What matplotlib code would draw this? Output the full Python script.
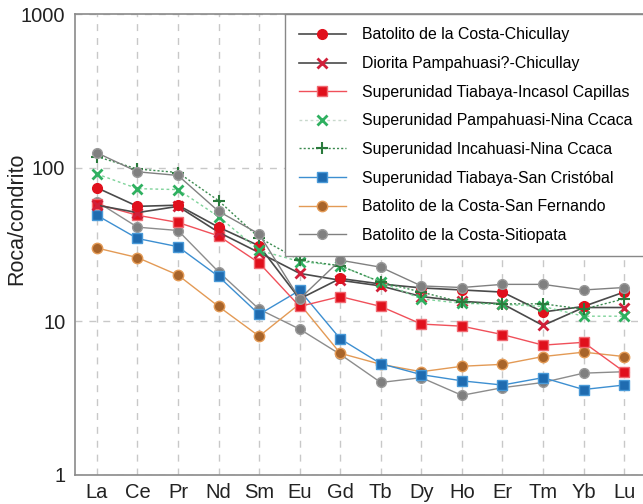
import matplotlib.pyplot as plt
import numpy as np

plt.rcParams['font.family'] = ['Liberation Sans', 'DejaVu Sans']

# Elementos de tierras raras (normalizados a condrito)
ree = ["La", "Ce", "Pr", "Nd", "Sm", "Eu", "Gd", "Tb", "Dy", "Ho", "Er", "Tm", "Yb", "Lu"]

chicullay = [74, 56, 57, 41, 31, 14, 19, 17.5, 16.5, 16, 15.5, 11.5, 12.5, 15.5]
diorita = [57, 51, 56, 38, 28, 20.5, 18.5, 17, 14.5, 13.5, 13, 9.4, 12.3, 12.3]
incasol = [58, 49, 44, 36, 24, 12.5, 14.5, 12.5, 9.6, 9.3, 8.2, 7.0, 7.3, 4.7]
pampahuasi = [91, 73, 72, 48, 29, 24.5, 23, 18, 14, 13.1, 12.9, 12.5, 10.8, 10.8]
incahuasi = [118, 98, 93, 61, 35, 25, 23, 18, 15.5, 13.3, 13, 13, 12, 14]
san_cristobal = [49, 34.6, 30.6, 19.6, 11.1, 15.9, 7.7, 5.3, 4.5, 4.1, 3.85, 4.3, 3.6, 3.85]
san_fernando = [30, 26, 20, 12.5, 8.0, 13, 6.2, 5.25, 4.7, 5.1, 5.25, 5.9, 6.3, 5.9]
sitiopata = [125, 94, 89, 52, 37, 14, 25, 22.5, 17, 16.6, 17.4, 17.4, 16, 16.6]
sitiopata_2 = [60, 41, 39, 21, 12, 8.9, 6.1, 4.0, 4.3, 3.3, 3.7, 4.0, 4.6, 4.7]

x = np.arange(len(ree))

fig = plt.figure(figsize=(6.43, 5.04), dpi=100)
ax = fig.add_axes([75 / 643, 1 - 475 / 504, 571 / 643, 461 / 504])

ax.plot(x, sitiopata_2, color="#8c8c8c", lw=1.0, marker="o", ms=7, mfc="#7f7f7f", mec="#9a9a9a")
ax.plot(x, san_fernando, color="#e39a55", lw=1.0, marker="o", ms=7.5, mfc="#a8642a", mec="#e39a55")
ax.plot(x, san_cristobal, color="#3d8fd1", lw=1.0, marker="s", ms=7, mfc="#1f6bb0", mec="#4a9ad8")
ax.plot(x, incasol, color="#f0505a", lw=1.0, marker="s", ms=7, mfc="#e0101c", mec="#f06a72")
ax.plot(x, diorita, color="#4a4a4a", lw=1.2, marker="x", ms=6.5, mew=2, mec="#d0203a")
ax.plot(x, chicullay, color="#4a4a4a", lw=1.2, marker="o", ms=7, mfc="#e0101c", mec="#e0101c")
ax.plot(x, pampahuasi, color="#7fd39a", lw=1.0, ls=(0, (2, 2)), marker="x", ms=6.5, mew=2, mec="#2fb060")
ax.plot(x, incahuasi, color="#3c8a50", lw=1.0, ls=(0, (1.5, 1.5)), marker="+", ms=8, mew=1.5, mec="#2a7a3c")
ax.plot(x, sitiopata, color="#808080", lw=1.0, marker="o", ms=7, mfc="#808080", mec="#9a9a9a")

# legend handles (same styles, in legend order)
handles = [
    plt.Line2D([], [], color="#4a4a4a", lw=1.2, marker="o", ms=7, mfc="#e0101c", mec="#e0101c"),
    plt.Line2D([], [], color="#4a4a4a", lw=1.2, marker="x", ms=6.5, mew=2, mec="#d0203a"),
    plt.Line2D([], [], color="#f0505a", lw=1.0, marker="s", ms=7, mfc="#e0101c", mec="#f06a72"),
    plt.Line2D([], [], color="#c8d8cc", lw=1.0, ls=(0, (2, 2)), marker="x", ms=6.5, mew=2, mec="#2fb060"),
    plt.Line2D([], [], color="#3c8a50", lw=1.0, ls=(0, (1.5, 1.5)), marker="+", ms=8, mew=1.5, mec="#2a7a3c"),
    plt.Line2D([], [], color="#3d8fd1", lw=1.0, marker="s", ms=7, mfc="#1f6bb0", mec="#4a9ad8"),
    plt.Line2D([], [], color="#e39a55", lw=1.0, marker="o", ms=7.5, mfc="#a8642a", mec="#e39a55"),
    plt.Line2D([], [], color="#808080", lw=1.0, marker="o", ms=7, mfc="#808080", mec="#9a9a9a"),
]
labels = [
    "Batolito de la Costa-Chicullay",
    "Diorita Pampahuasi?-Chicullay",
    "Superunidad Tiabaya-Incasol Capillas",
    "Superunidad Pampahuasi-Nina Ccaca",
    "Superunidad Incahuasi-Nina Ccaca",
    "Superunidad Tiabaya-San Cristóbal",
    "Batolito de la Costa-San Fernando",
    "Batolito de la Costa-Sitiopata",
]
leg = ax.legend(handles, labels, loc="upper right", bbox_to_anchor=(1, 1), borderaxespad=0,
                fontsize=11.4, frameon=True, fancybox=False, framealpha=1, edgecolor="#888888",
                handlelength=3.0, handletextpad=1.0, labelspacing=0.86, borderpad=0.85)
leg.get_frame().set_linewidth(1.0)
leg.set_zorder(10)

ax.set_yscale("log")
ax.set_ylim(1, 1000)
ax.set_xlim(-0.54, 13.54)
ax.set_xticks(x)
ax.set_xticklabels(ree)
ax.set_yticks([1, 10, 100, 1000])
ax.set_yticklabels(["1", "10", "100", "1000"])
ax.yaxis.set_minor_locator(plt.NullLocator())
ax.tick_params(axis="y", length=0, labelsize=14.5, pad=7, colors="#222222")
ax.tick_params(axis="x", length=0, labelsize=14.5, pad=6, colors="#222222")
ax.set_ylabel("Roca/condrito", fontsize=15.5, color="#222222")
ax.yaxis.set_label_coords(-0.083, 0.555)

ax.grid(True, which="major", color="#c8c8c8", ls=(0, (5, 5)), lw=1)
for s in ax.spines.values():
    s.set_color("#8a8a8a")
    s.set_linewidth(1.2)

fig.savefig("out.png", dpi=100)
